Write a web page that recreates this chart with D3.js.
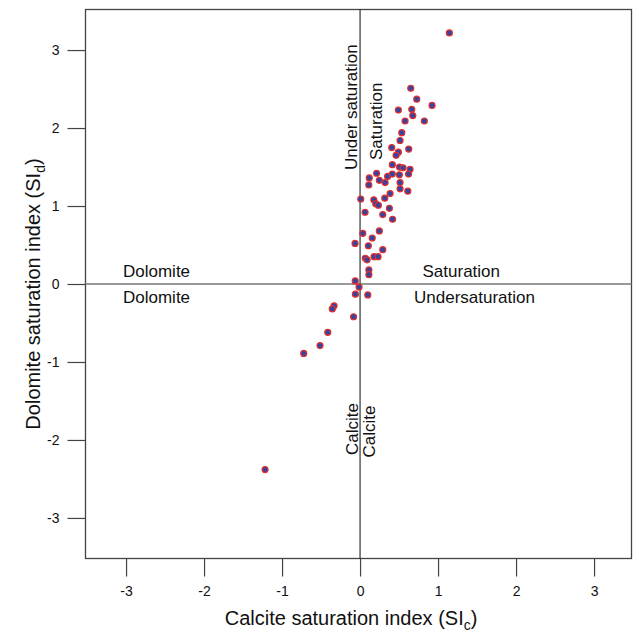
<!DOCTYPE html>
<html>
<head>
<meta charset="utf-8">
<script src="https://cdn.jsdelivr.net/npm/d3@7"></script>
<style>
  html, body { margin: 0; padding: 0; background: #fff; }
  svg { display: block; }
  text { font-family: "Liberation Sans", Arial, Helvetica, sans-serif; fill: #111; }
</style>
</head>
<body>
<svg id="chart" width="633" height="632"></svg>
<script>
// Saturation indices of the water samples
const calciteSI = [
  1.145, 0.65, 0.727, 0.923, 0.491, 0.663, 0.676, 0.577, 0.824, 0.535,
  0.513, 0.406, 0.624, 0.491, 0.462, 0.414, 0.506, 0.551, 0.641, 0.212,
  0.353, 0.413, 0.504, 0.622, 0.118, 0.247, 0.321, 0.112, 0.513, 0.513,
  0.612, 0.385, 0.009, 0.176, 0.317, 0.201, 0.235, 0.376, 0.064, 0.291,
  0.417, 0.247, 0.035, 0.156, -0.064, 0.106, 0.291, 0.068, 0.09, 0.179,
  0.231, 0.113, 0.113, -0.062, -0.013, -0.06, 0.099, -0.333, -0.356, -0.083,
  -0.414, -0.513, -0.722, -1.218
];
const dolomiteSI = [
  3.22, 2.51, 2.37, 2.29, 2.23, 2.24, 2.16, 2.09, 2.09, 1.94,
  1.84, 1.75, 1.73, 1.69, 1.65, 1.53, 1.50, 1.49, 1.47, 1.42,
  1.38, 1.41, 1.40, 1.41, 1.36, 1.33, 1.30, 1.27, 1.30, 1.22,
  1.19, 1.16, 1.09, 1.08, 1.10, 1.03, 1.01, 0.97, 0.92, 0.89,
  0.83, 0.68, 0.65, 0.59, 0.52, 0.49, 0.44, 0.33, 0.31, 0.35,
  0.35, 0.18, 0.12, 0.04, -0.04, -0.13, -0.14, -0.28, -0.32, -0.42,
  -0.62, -0.79, -0.89, -2.38
];
const xTickValues = [-3, -2, -1, 0, 1, 2, 3];
const yTickValues = [-3, -2, -1, 0, 1, 2, 3];

const svg = d3.select("#chart");
const plotLeft = 85.5, plotRight = 631.5, plotTop = 9.5, plotBottom = 558.5;

const x = d3.scaleLinear().domain([-3.52, 3.48]).range([plotLeft, plotRight]);
const y = d3.scaleLinear().domain([-3.52, 3.52]).range([plotBottom, plotTop]);

// Frame
svg.append("rect")
  .attr("x", plotLeft).attr("y", plotTop)
  .attr("width", plotRight - plotLeft).attr("height", plotBottom - plotTop)
  .attr("fill", "none").attr("stroke", "#444").attr("stroke-width", 1.3);

// Zero reference lines
svg.append("line")
  .attr("x1", plotLeft).attr("x2", plotRight)
  .attr("y1", y(0)).attr("y2", y(0))
  .attr("stroke", "#777").attr("stroke-width", 1.3);
svg.append("line")
  .attr("x1", x(0)).attr("x2", x(0))
  .attr("y1", plotTop).attr("y2", plotBottom)
  .attr("stroke", "#333").attr("stroke-width", 1.2);

// Axes
const xAxis = d3.axisBottom(x).tickValues(xTickValues).tickSize(18).tickPadding(10)
  .tickFormat(d3.format("d"));
const yAxis = d3.axisLeft(y).tickValues(yTickValues).tickSize(18).tickPadding(8)
  .tickFormat(d3.format("d"));

const gx = svg.append("g").attr("transform", `translate(0,${plotBottom})`).call(xAxis);
const gy = svg.append("g").attr("transform", `translate(${plotLeft},0)`).call(yAxis);
[gx, gy].forEach(g => {
  g.select(".domain").remove();
  g.selectAll(".tick line").attr("stroke", "#444").attr("stroke-width", 1.2);
  g.selectAll(".tick text").attr("font-size", 14).attr("fill", "#111")
    .style("font-family", "'Liberation Sans', Arial, sans-serif")
    .text(d => d < 0 ? "-" + Math.abs(d) : d);
});

// Axis titles
const xt = svg.append("text")
  .attr("x", x(0) - 9).attr("y", 625)
  .attr("text-anchor", "middle").attr("font-size", 20);
xt.append("tspan").text("Calcite saturation index (SI");
xt.append("tspan").attr("font-size", 14).attr("dy", 5).text("c");
xt.append("tspan").attr("dy", -5).text(")");

const yt = svg.append("text")
  .attr("transform", `translate(40,${y(0) + 10}) rotate(-90)`)
  .attr("text-anchor", "middle").attr("font-size", 20);
yt.append("tspan").text("Dolomite saturation index (SI");
yt.append("tspan").attr("font-size", 14).attr("dy", 5).text("d");
yt.append("tspan").attr("dy", -5).text(")");

// Region labels
const lab = (tx, ty, s, rot) => {
  const t = svg.append("text").attr("font-size", 17).text(s);
  if (rot) t.attr("transform", `translate(${tx},${ty}) rotate(-90)`);
  else t.attr("x", tx).attr("y", ty);
  return t;
};
lab(123, 276.5, "Dolomite");
lab(123, 303, "Dolomite");
lab(422.5, 276.5, "Saturation");
lab(414, 303, "Undersaturation");
lab(357, 170, "Under saturation", true);
lab(381.5, 160, "Saturation", true);
lab(358, 455, "Calcite", true);
lab(375, 457.5, "Calcite", true);

// Sample points
svg.append("g").selectAll("circle")
  .data(d3.range(calciteSI.length))
  .join("circle")
  .attr("cx", i => x(calciteSI[i]))
  .attr("cy", i => y(dolomiteSI[i]))
  .attr("r", 3)
  .attr("fill", "#3444a2")
  .attr("stroke", "#e2302c")
  .attr("stroke-width", 1.2);
</script>
</body>
</html>
